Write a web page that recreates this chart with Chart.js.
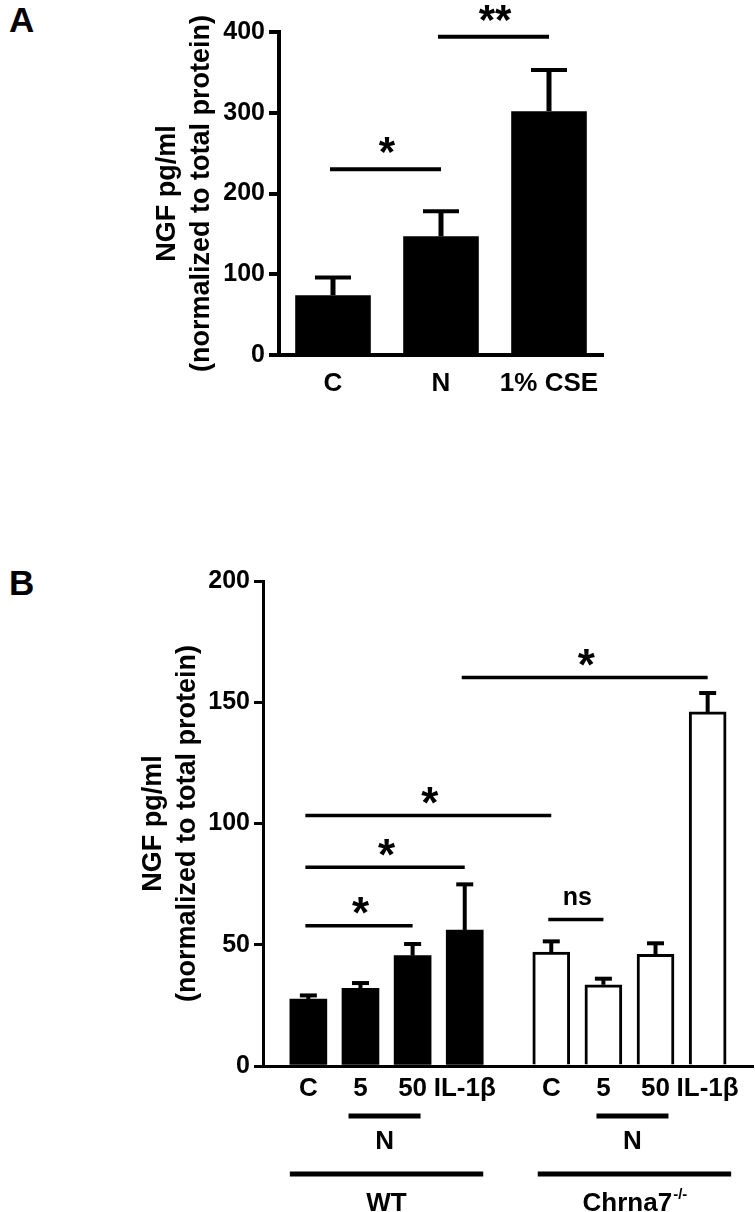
<!DOCTYPE html>
<html>
<head>
<meta charset="utf-8">
<script src="https://cdn.jsdelivr.net/npm/chart.js@4.4.1/dist/chart.umd.min.js"></script>
<style>
  body { margin: 0; background: #fff; width: 755px; height: 1212px; position: relative; overflow: hidden; font-family: 'Liberation Sans', Arial, sans-serif; }
  canvas { position: absolute; left: 0; }
  .tag { position: absolute; left: 9px; font-weight: bold; font-size: 35px; line-height: 35px; color: #000; }
</style>
</head>
<body>
<div class="tag" style="top:2px">A</div>
<div class="tag" style="top:565px">B</div>
<canvas id="chartA" width="755" height="420" style="top:0"></canvas>
<canvas id="chartB" width="755" height="672" style="top:540px"></canvas>
<script>
const FONT = "'Liberation Sans', Arial, sans-serif";

// panel A
const labelsA = ['C', 'N', '1% CSE'];
const meansA = [74, 147, 302];
const semA = [22, 31, 51];
const yTicksA = [0, 100, 200, 300, 400];
const sigA = [
  { from: 0, to: 1, y: 230, text: '*' },
  { from: 1, to: 2, y: 394, text: '**' }
];

// panel B
const treatments = ['C', '5', '50', 'IL-1β'];
const genotypes = ['WT', 'Chrna7'];
const meansWT = [27.6, 32.0, 45.5, 56.1];
const semWT = [1.5, 2.2, 4.8, 18.8];
const meansKO = [47.0, 33.5, 46.1, 146];
const semKO = [4.4, 2.5, 4.5, 7.8];
const yTicksB = [0, 50, 100, 150, 200];
const sigB = [
  { from: 0, to: 2, y: 57.8, text: '*' },
  { from: 0, to: 3, y: 82, text: '*' },
  { from: 0, to: 4, y: 103.3, text: '*' },
  { from: 4, to: 5, y: 60.4, text: 'ns' },
  { from: 3, to: 7, y: 160.2, text: '*' }
];

const labelsB = treatments.concat(treatments);
const meansB = meansWT.concat(meansKO);
const semB = semWT.concat(semKO);
// small gap between the two genotype groups
const xPosB = meansB.map((_, i) => i + (i >= treatments.length ? 0.66 : 0));

function line(ctx, x1, y1, x2, y2, w) {
  ctx.save();
  ctx.strokeStyle = '#000';
  ctx.lineWidth = w;
  ctx.beginPath();
  ctx.moveTo(x1, y1);
  ctx.lineTo(x2, y2);
  ctx.stroke();
  ctx.restore();
}

// draw text with its ink centred on (x, cy)
function centerText(ctx, text, x, cy, size) {
  ctx.save();
  ctx.fillStyle = '#000';
  ctx.font = 'bold ' + size + 'px ' + FONT;
  ctx.textAlign = 'center';
  ctx.textBaseline = 'alphabetic';
  const m = ctx.measureText(text);
  ctx.fillText(text, x, cy + (m.actualBoundingBoxAscent - m.actualBoundingBoxDescent) / 2);
  ctx.restore();
}

function errorBars(chart, means, sems, capW, lw) {
  const ctx = chart.ctx, y = chart.scales.y;
  const meta = chart.getDatasetMeta(0);
  ctx.save();
  ctx.strokeStyle = '#000';
  meta.data.forEach((bar, i) => {
    const top = y.getPixelForValue(means[i] + sems[i]);
    ctx.lineWidth = lw;
    ctx.beginPath();
    ctx.moveTo(bar.x, bar.y);
    ctx.lineTo(bar.x, top);
    ctx.stroke();
    ctx.lineWidth = 4;
    ctx.beginPath();
    ctx.moveTo(bar.x - capW / 2, top);
    ctx.lineTo(bar.x + capW / 2, top);
    ctx.stroke();
  });
  ctx.restore();
}

function sigMarks(chart, marks, lw, starSize, gap) {
  const ctx = chart.ctx, y = chart.scales.y;
  const bars = chart.getDatasetMeta(0).data;
  marks.forEach(m => {
    const x1 = bars[m.from].x, x2 = bars[m.to].x;
    const yy = y.getPixelForValue(m.y);
    line(ctx, x1 - 3, yy, x2, yy, lw);
    if (m.text === 'ns') centerText(ctx, m.text, (x1 + x2) / 2, yy - gap - 2, 25);
    else centerText(ctx, m.text, (x1 + x2) / 2, yy - gap, starSize);
  });
}

function yAxis(ticks, width, titlePad, tickLen, lw) {
  return {
    min: ticks[0],
    max: ticks[ticks.length - 1],
    afterBuildTicks: s => { s.ticks = ticks.map(v => ({ value: v })); },
    afterFit: s => { s.width = width; },
    ticks: { color: '#000', font: { family: FONT, size: 25, weight: 'bold' }, padding: 4 },
    grid: { drawOnChartArea: false, color: '#000', lineWidth: lw, tickLength: tickLen },
    border: { color: '#000', width: lw },
    title: {
      display: true,
      text: ['NGF pg/ml', '(normalized to total protein)'],
      color: '#000',
      font: { family: FONT, size: 27, weight: 'bold', lineHeight: 1.27 },
      padding: { top: titlePad, bottom: 0 }
    }
  };
}

new Chart(document.getElementById('chartA'), {
  type: 'bar',
  data: {
    labels: labelsA,
    datasets: [{ data: meansA, backgroundColor: '#000', borderWidth: 0, barPercentage: 0.7, categoryPercentage: 1 }]
  },
  options: {
    responsive: false,
    animation: false,
    devicePixelRatio: 1,
    layout: { padding: { top: 32, right: 152, left: 0, bottom: 0 } },
    plugins: { legend: { display: false }, tooltip: { enabled: false } },
    scales: {
      x: {
        afterFit: s => { s.height = 65; },
        ticks: { color: '#000', font: { family: FONT, size: 26, weight: 'bold' }, padding: 13 },
        grid: { display: false, drawTicks: false },
        border: { color: '#000', width: 4 }
      },
      y: yAxis(yTicksA, 279, 150, 10, 4)
    }
  },
  plugins: [{
    id: 'marksA',
    afterDatasetsDraw(chart) {
      errorBars(chart, meansA, semA, 36, 5);
      sigMarks(chart, sigA, 4, 42, 24);
    }
  }]
});

new Chart(document.getElementById('chartB'), {
  type: 'bar',
  data: {
    datasets: [{
      data: xPosB.map((x, i) => ({ x: x, y: meansB[i] })),
      backgroundColor: meansB.map((_, i) => i < treatments.length ? '#000' : '#fff'),
      borderColor: '#000',
      borderWidth: meansB.map((_, i) => i < treatments.length ? 0 : 3),
      barThickness: 37
    }]
  },
  options: {
    responsive: false,
    animation: false,
    devicePixelRatio: 1,
    layout: { padding: { top: 41, right: 2, left: 0, bottom: 0 } },
    plugins: { legend: { display: false }, tooltip: { enabled: false } },
    scales: {
      x: {
        type: 'linear',
        offset: false,
        min: -0.87,
        max: 8.53,
        afterBuildTicks: s => { s.ticks = xPosB.map(v => ({ value: v })); },
        afterFit: s => { s.height = 146; },
        ticks: {
          autoSkip: false, maxRotation: 0, color: '#000', padding: 7,
          font: { family: FONT, size: 26, weight: 'bold' },
          callback: (v, i) => labelsB[i]
        },
        grid: { display: false, drawTicks: false },
        border: { color: '#000', width: 3 }
      },
      y: yAxis(yTicksB, 263, 136, 9, 3)
    }
  },
  plugins: [{
    id: 'marksB',
    afterDatasetsDraw(chart) {
      errorBars(chart, meansB, semB, 17, 4);
      sigMarks(chart, sigB, 3.5, 44, 20);
    },
    afterDraw(chart) {
      const ctx = chart.ctx;
      const bars = chart.getDatasetMeta(0).data;
      const bottom = chart.chartArea.bottom;
      const n = treatments.length;
      genotypes.forEach((g, gi) => {
        const first = gi * n, last = first + n - 1;
        const shift = gi * 5;
        const mid = (bars[first + 1].x + bars[first + 2].x) / 2 - 2 + shift;
        line(ctx, mid - 36, bottom + 50, mid + 36, bottom + 50, 5);
        centerText(ctx, 'N', mid, bottom + 74, 26);
        const gx1 = bars[first].x - 18.5 + shift, gx2 = bars[last].x + 18.5 + shift;
        line(ctx, gx1, bottom + 108, gx2, bottom + 108, 5);
        const cx = (gx1 + gx2) / 2;
        if (gi === 0) {
          centerText(ctx, g, cx, bottom + 136, 26);
        } else {
          // gene name with -/- superscript
          ctx.save();
          ctx.fillStyle = '#000';
          ctx.textBaseline = 'alphabetic';
          ctx.font = 'bold 26px ' + FONT;
          const w1 = ctx.measureText(g).width;
          ctx.font = 'bold 15px ' + FONT;
          const w2 = ctx.measureText('-/-').width;
          const x0 = cx - (w1 + w2) / 2;
          const base = bottom + 145;
          ctx.font = 'bold 26px ' + FONT;
          ctx.fillText(g, x0, base);
          ctx.font = 'bold 15px ' + FONT;
          ctx.fillText('-/-', x0 + w1 + 1, base - 12);
          ctx.restore();
        }
      });
    }
  }]
});
</script>
</body>
</html>
